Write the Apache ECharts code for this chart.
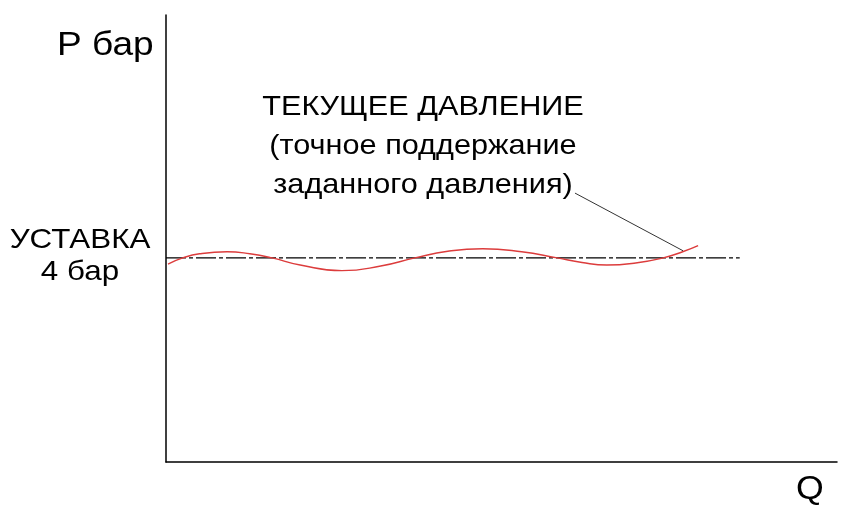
<!DOCTYPE html>
<html><head><meta charset="utf-8">
<script src="https://cdn.jsdelivr.net/npm/echarts@6/dist/echarts.min.js"></script>
<style>html,body{margin:0;padding:0;background:#fff}#c{width:850px;height:510px}</style>
</head><body><div id="c"></div>
<script>
// Data (Q in % of axis, P in bar)
const pressureQ = [0.3, 2.5, 5, 9.1, 12.5, 15.8, 20, 26.2, 32, 37.1, 42, 47.2, 53, 58.3, 62, 65.7, 70, 74.1, 77, 79.3];
const pressureP = [3.88, 4.0, 4.08, 4.12, 4.08, 4.0, 3.86, 3.75, 3.84, 4.0, 4.13, 4.18, 4.12, 4.0, 3.91, 3.86, 3.9, 4.0, 4.12, 4.24];
const setpointQ = [0, 85.5];
const setpointP = [4, 4];
const leaderQ = [60.95, 77.05];
const leaderP = [5.27, 4.14];
const axisRange = { qMax: 100, pMax: 8.76 };
const texts = {
  yTitle: 'P бар', xTitle: 'Q',
  setpoint: ['УСТАВКА', '4 бар'],
  note: ['ТЕКУЩЕЕ ДАВЛЕНИЕ', '(точное поддержание', 'заданного давления)']
};

const chart = echarts.init(document.getElementById('c'));
const font = '"Liberation Sans", Arial, sans-serif';
const zip = (a, b) => a.map((v, i) => [v, b[i]]);
chart.setOption({
  animation: false,
  grid: { left: 166, top: 15, right: 13, bottom: 48 },
  xAxis: { type: 'value', min: 0, max: axisRange.qMax, axisLine: { show: true, onZero: false, lineStyle: { color: '#000', width: 1.5 } },
    axisTick: { show: false }, axisLabel: { show: false }, splitLine: { show: false } },
  yAxis: { type: 'value', min: 0, max: axisRange.pMax, axisLine: { show: true, onZero: false, lineStyle: { color: '#000', width: 1.5 } },
    axisTick: { show: false }, axisLabel: { show: false }, splitLine: { show: false } },
  series: [
    { type: 'line', data: zip(setpointQ, setpointP), symbol: 'none', silent: true,
      lineStyle: { color: '#000', width: 1.3, type: [20, 3, 4, 3] } },
    { type: 'line', data: zip(pressureQ, pressureP), symbol: 'none', smooth: 0.5, silent: true,
      lineStyle: { color: '#dc3c3c', width: 1.4 } },
    { type: 'line', data: zip(leaderQ, leaderP), symbol: 'none', silent: true,
      lineStyle: { color: '#333', width: 1 } }
  ],
  graphic: [
    { type: 'text', x: 57, y: 29, scaleX: 1.09, style: { text: texts.yTitle, font: '34px ' + font, fill: '#000' } },
    { type: 'text', x: 796, y: 473, scaleX: 1.05, style: { text: texts.xTitle, font: '34px ' + font, fill: '#000' } },
    { type: 'text', x: 80, y: 224, scaleX: 1.12, style: { text: texts.setpoint.join('\n'), font: '28px ' + font, fill: '#000', align: 'center', lineHeight: 32 } },
    { type: 'text', x: 423, y: 88, scaleX: 1.095, style: { text: texts.note.join('\n'), font: '28px ' + font, fill: '#000', align: 'center', lineHeight: 39 } }
  ]
});
</script></body></html>
